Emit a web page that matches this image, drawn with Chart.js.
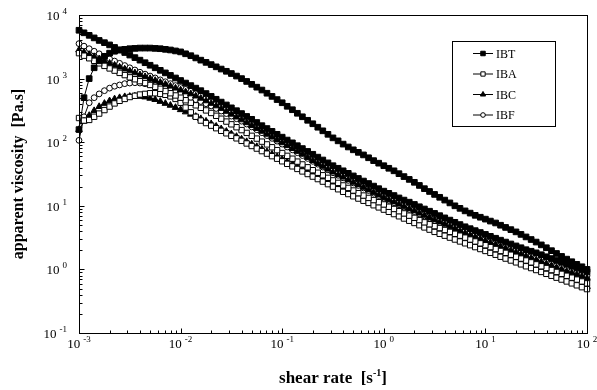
<!DOCTYPE html>
<html>
<head>
<meta charset="utf-8">
<script src="https://cdn.jsdelivr.net/npm/chart.js@4/dist/chart.umd.min.js"></script>
<style>
  html, body { margin: 0; padding: 0; background: #fff; }
  canvas { display: block; }
</style>
</head>
<body>
<canvas id="c" width="597" height="390"></canvas>
<script>
// Shear rates [1/s], twenty per decade
const shearRate = [
  0.001,0.00112,0.00126,0.00141,0.00158,0.00178,0.002,0.00224,0.00251,0.00282,0.00316,0.00355,0.00398,0.00447,0.00501,0.00562,0.00631,0.00708,0.00794,0.00891,
  0.01,0.0112,0.0126,0.0141,0.0158,0.0178,0.02,0.0224,0.0251,0.0282,0.0316,0.0355,0.0398,0.0447,0.0501,0.0562,0.0631,0.0708,0.0794,0.0891,
  0.1,0.112,0.126,0.141,0.158,0.178,0.2,0.224,0.251,0.282,0.316,0.355,0.398,0.447,0.501,0.562,0.631,0.708,0.794,0.891,
  1,1.12,1.26,1.41,1.58,1.78,2,2.24,2.51,2.82,3.16,3.55,3.98,4.47,5.01,5.62,6.31,7.08,7.94,8.91,
  10,11.2,12.6,14.1,15.8,17.8,20,22.4,25.1,28.2,31.6,35.5,39.8,44.7,50.1,56.2,63.1,70.8,79.4,89.1,
  100];

// Apparent viscosity [Pa.s]: increasing shear ramp ("Up") and decreasing ramp ("Down")
const ibtUp = [
  158,501,1000,1479,1905,2239,2512,2692,2818,2884,2951,2985,3020,3020,3020,2985,2951,2884,2818,2723,
  2630,2455,2291,2113,1950,1799,1660,1531,1413,1303,1202,1096,1000,902,813,733,661,589,525,468,
  417,367,324,285,251,221,195,172,151,133,117,105,93.3,84.1,75.9,69.2,63.1,56.9,51.3,46.8,
  42.7,38.9,35.5,32.0,28.8,26.0,23.4,20.9,18.6,16.8,15.1,13.6,12.3,11.1,10.0,9.12,8.32,7.67,7.08,6.61,
  6.17,5.75,5.37,4.95,4.57,4.22,3.89,3.55,3.24,2.95,2.69,2.43,2.19,1.97,1.78,1.60,1.45,1.32,1.20,1.10,
  1.00];
const ibtDown = [
  5754,5248,4786,4365,3981,3673,3388,3090,2818,2570,2344,2138,1950,1778,1622,1479,1349,1230,1122,1023,
  933,851,776,708,646,582,525,473,427,385,347,313,282,254,229,204,182,164,148,133,
  120,108,97.7,88.1,79.4,71.6,64.6,58.2,52.5,47.3,42.7,38.9,35.5,32.4,29.5,26.9,24.5,22.4,20.4,18.6,
  17.0,15.7,14.5,13.3,12.3,11.4,10.5,9.66,8.91,8.22,7.59,7.00,6.46,5.96,5.50,5.07,4.68,4.37,4.07,3.80,
  3.55,3.31,3.09,2.88,2.69,2.51,2.34,2.19,2.04,1.93,1.82,1.70,1.58,1.48,1.38,1.29,1.20,1.12,1.05,0.977,
  0.912];

const ibaUp = [
  240,219,224,251,282,320,363,407,447,479,513,537,562,575,589,589,575,556,525,479,
  417,351,295,251,219,200,182,166,151,138,126,115,105,95.5,87.1,79.4,72.4,66.1,60.3,55.0,
  50.1,45.7,41.7,38.0,34.7,31.6,28.8,26.3,24.0,21.9,20.0,18.2,16.6,15.3,14.1,13.0,12.0,11.1,10.2,9.44,
  8.71,8.04,7.41,6.84,6.31,5.82,5.37,4.95,4.57,4.22,3.89,3.63,3.39,3.16,2.95,2.75,2.57,2.40,2.24,2.09,
  1.95,1.82,1.70,1.58,1.48,1.38,1.29,1.20,1.12,1.05,0.977,0.912,0.851,0.794,0.741,0.692,0.646,0.603,0.562,0.525,
  0.490];
const ibaDown = [
  2512,2291,2089,1905,1738,1585,1445,1334,1230,1135,1047,977,912,851,794,741,692,638,589,543,
  501,457,417,380,347,316,288,260,234,211,191,172,155,140,126,114,102,92.3,83.2,75.0,
  67.6,61.0,55.0,49.5,44.7,40.3,36.3,33.1,30.2,27.5,25.1,22.9,20.9,19.1,17.4,15.8,14.5,13.3,12.3,11.4,
  10.5,9.66,8.91,8.22,7.59,7.00,6.46,5.96,5.50,5.13,4.79,4.47,4.17,3.89,3.63,3.39,3.16,2.95,2.75,2.57,
  2.40,2.24,2.09,1.95,1.82,1.70,1.58,1.48,1.38,1.29,1.20,1.12,1.05,0.977,0.912,0.851,0.794,0.741,0.692,0.646,
  0.603];

const ibcUp = [
  158,214,263,313,363,407,447,479,501,519,525,531,525,513,490,468,437,407,380,351,
  324,299,275,254,234,214,195,178,162,148,135,123,112,102,93.3,85.1,77.6,70.8,64.6,58.9,
  53.7,49.0,44.7,40.7,37.2,33.9,30.9,28.2,25.7,23.4,21.4,19.5,17.8,16.4,15.1,14.0,12.9,11.9,11.0,10.1,
  9.33,8.61,7.94,7.33,6.76,6.24,5.75,5.37,5.01,4.62,4.27,3.98,3.72,3.47,3.24,3.02,2.82,2.63,2.45,2.29,
  2.14,2.00,1.86,1.74,1.62,1.51,1.41,1.32,1.23,1.15,1.07,1.00,0.933,0.871,0.813,0.759,0.708,0.661,0.617,0.575,
  0.537];
const ibcDown = [
  2818,2600,2399,2213,2042,1884,1738,1622,1514,1413,1318,1230,1148,1072,1000,933,871,813,759,708,
  661,617,575,531,490,447,407,372,339,305,275,248,224,202,182,164,148,133,120,108,
  97.7,88.1,79.4,71.6,64.6,57.5,51.3,46.2,41.7,37.6,33.9,30.9,28.2,25.7,23.4,21.4,19.5,17.8,16.2,14.8,
  13.5,12.4,11.5,10.6,9.77,9.02,8.32,7.67,7.08,6.53,6.03,5.56,5.13,4.73,4.37,4.03,3.72,3.47,3.24,3.02,
  2.82,2.63,2.45,2.29,2.14,2.00,1.86,1.74,1.62,1.51,1.41,1.32,1.23,1.15,1.07,1.00,0.933,0.881,0.832,0.776,
  0.724];

const ibfUp = [
  107,251,417,501,575,646,708,759,794,832,851,861,851,832,813,776,741,700,661,617,
  575,537,501,468,437,403,372,339,309,282,257,234,214,193,174,157,141,127,115,104,
  93.3,84.1,75.9,68.4,61.7,55.6,50.1,45.2,40.7,36.7,33.1,30.2,27.5,25.1,22.9,20.9,19.1,17.4,15.8,14.5,
  13.2,12.2,11.2,10.4,9.55,8.81,8.13,7.50,6.92,6.38,5.89,5.43,5.01,4.62,4.27,3.98,3.72,3.43,3.16,2.95,
  2.75,2.57,2.40,2.24,2.09,1.95,1.82,1.70,1.58,1.48,1.38,1.29,1.20,1.12,1.05,0.977,0.912,0.861,0.813,0.759,
  0.708];
const ibfDown = [
  3548,3236,2951,2692,2455,2239,2042,1884,1738,1603,1479,1365,1259,1175,1096,1023,955,891,832,776,
  724,676,631,582,537,490,447,407,372,335,302,272,245,221,200,180,162,145,129,116,
  105,93.3,83.2,75.0,67.6,60.3,53.7,48.4,43.7,39.4,35.5,32.4,29.5,26.9,24.5,22.4,20.4,18.6,17.0,15.5,
  14.1,13.0,12.0,11.1,10.2,9.44,8.71,8.04,7.41,6.84,6.31,5.82,5.37,5.01,4.68,4.32,3.98,3.72,3.47,3.24,
  3.02,2.82,2.63,2.45,2.29,2.14,2.00,1.86,1.74,1.62,1.51,1.41,1.32,1.24,1.17,1.10,1.02,0.966,0.912,0.851,
  0.794];

const seriesNames = ['IBT', 'IBA', 'IBC', 'IBF'];
const xDecades = [-3, -2, -1, 0, 1, 2];
const yDecades = [-1, 0, 1, 2, 3, 4];

// One hysteresis loop: up the shear-rate ramp, then back down
function loop(up, down) {
  const pts = up.map((v, i) => ({ x: shearRate[i], y: v }));
  for (let i = down.length - 1; i >= 0; i--) pts.push({ x: shearRate[i], y: down[i] });
  return pts;
}

const SERIF = '"Liberation Serif", "Times New Roman", serif';

function series(label, up, down, style, radius, fill) {
  return {
    label,
    data: loop(up, down),
    borderColor: '#000',
    borderWidth: 1,
    pointStyle: style,
    pointRadius: radius,
    pointBackgroundColor: fill,
    pointBorderColor: '#000',
    pointBorderWidth: 1,
    tension: 0,
    clip: 8
  };
}

function drawPower(ctx, exp, x, baseline, align) {
  ctx.font = '13px ' + SERIF;
  const bw = ctx.measureText('10').width;
  ctx.font = '9px ' + SERIF;
  const es = String(exp);
  const ew = ctx.measureText(es).width;
  const gap = 3;
  const total = bw + gap + ew;
  const x0 = align === 'right' ? x - total : x - total / 2;
  ctx.textAlign = 'left';
  ctx.textBaseline = 'alphabetic';
  ctx.font = '13px ' + SERIF;
  ctx.fillText('10', x0, baseline);
  ctx.font = '9px ' + SERIF;
  ctx.fillText(es, x0 + bw + gap, baseline - 6);
}

const decorations = {
  id: 'decorations',
  afterDraw(chart) {
    const ctx = chart.ctx;
    const a = chart.chartArea;
    const xs = chart.scales.x, ys = chart.scales.y;
    const L = Math.round(a.left) + 0.5, R = Math.round(a.right) + 0.5;
    const T = Math.round(a.top) + 0.5, B = Math.round(a.bottom) + 0.5;
    ctx.save();
    ctx.strokeStyle = '#000';
    ctx.fillStyle = '#000';
    ctx.lineWidth = 1;
    ctx.strokeRect(L, T, R - L, B - T);

    // inward tick marks: majors at decades, minors at 2..9
    ctx.beginPath();
    for (let d = -3; d <= 2; d++) {
      for (let m = 1; m <= 9; m++) {
        const v = m * Math.pow(10, d);
        if (v > 100.0001) break;
        const px = Math.round(xs.getPixelForValue(v)) + 0.5;
        const len = m === 1 ? 5 : 3;
        ctx.moveTo(px, B); ctx.lineTo(px, B - len);
      }
    }
    for (let d = -1; d <= 4; d++) {
      for (let m = 1; m <= 9; m++) {
        const v = m * Math.pow(10, d);
        if (v > 10000.001) break;
        const py = Math.round(ys.getPixelForValue(v)) + 0.5;
        const len = m === 1 ? 5 : 3;
        ctx.moveTo(L, py); ctx.lineTo(L + len, py);
      }
    }
    ctx.stroke();

    // tick labels
    xDecades.forEach(e => drawPower(ctx, e, xs.getPixelForValue(Math.pow(10, e)), 348, 'center'));
    yDecades.forEach(e => drawPower(ctx, e, 67, ys.getPixelForValue(Math.pow(10, e)) + 5, 'right'));

    // x axis title with superscript unit
    ctx.textBaseline = 'alphabetic';
    ctx.textAlign = 'left';
    const main = 'shear rate  [s', sup = '-1', close = ']';
    ctx.font = 'bold 17px ' + SERIF;
    const w1 = ctx.measureText(main).width, w3 = ctx.measureText(close).width;
    ctx.font = 'bold 10px ' + SERIF;
    const w2 = ctx.measureText(sup).width;
    const cx = (a.left + a.right) / 2;
    const x0 = cx - (w1 + w2 + w3) / 2;
    ctx.font = 'bold 17px ' + SERIF;
    ctx.fillText(main, x0, 383);
    ctx.font = 'bold 10px ' + SERIF;
    ctx.fillText(sup, x0 + w1, 376);
    ctx.font = 'bold 17px ' + SERIF;
    ctx.fillText(close, x0 + w1 + w2, 383);

    // y axis title
    ctx.save();
    ctx.translate(19, (a.top + a.bottom) / 2);
    ctx.rotate(-Math.PI / 2);
    ctx.textAlign = 'center';
    ctx.textBaseline = 'middle';
    ctx.font = 'bold 16px ' + SERIF;
    ctx.fillText('apparent viscosity  [Pa.s]', 0, 0);
    ctx.restore();

    // legend box
    const bx = 452.5, by = 41.5, bw = 103, bh = 85;
    ctx.fillStyle = '#fff';
    ctx.fillRect(bx, by, bw, bh);
    ctx.strokeStyle = '#000';
    ctx.strokeRect(bx, by, bw, bh);
    chart.data.datasets.forEach((ds, i) => {
      const y = 53.5 + i * 20.5;
      ctx.strokeStyle = '#000';
      ctx.lineWidth = 1;
      ctx.beginPath();
      ctx.moveTo(473, y); ctx.lineTo(493, y);
      ctx.stroke();
      ctx.fillStyle = ds.pointBackgroundColor;
      Chart.helpers.drawPoint(ctx, { pointStyle: ds.pointStyle, radius: ds.pointRadius * 0.8, borderWidth: 1, rotation: 0 }, 483, y);
      ctx.fillStyle = '#000';
      ctx.font = '12px ' + SERIF;
      ctx.textAlign = 'left';
      ctx.textBaseline = 'middle';
      ctx.fillText(ds.label, 496, y + 1);
    });
    ctx.restore();
  }
};

new Chart(document.getElementById('c'), {
  type: 'line',
  data: {
    datasets: [
      series(seriesNames[0], ibtUp, ibtDown, 'rect', 4.0, '#000'),
      series(seriesNames[1], ibaUp, ibaDown, 'rect', 3.8, '#fff'),
      series(seriesNames[2], ibcUp, ibcDown, 'triangle', 3.8, '#000'),
      series(seriesNames[3], ibfUp, ibfDown, 'circle', 2.9, '#fff')
    ]
  },
  options: {
    responsive: false,
    animation: false,
    devicePixelRatio: 1,
    layout: { padding: { left: 79, top: 15, right: 10, bottom: 57 } },
    plugins: { legend: { display: false }, tooltip: { enabled: false } },
    scales: {
      x: { type: 'logarithmic', min: 0.001, max: 100, display: false },
      y: { type: 'logarithmic', min: 0.1, max: 10000, display: false }
    }
  },
  plugins: [decorations]
});
</script>
</body>
</html>
